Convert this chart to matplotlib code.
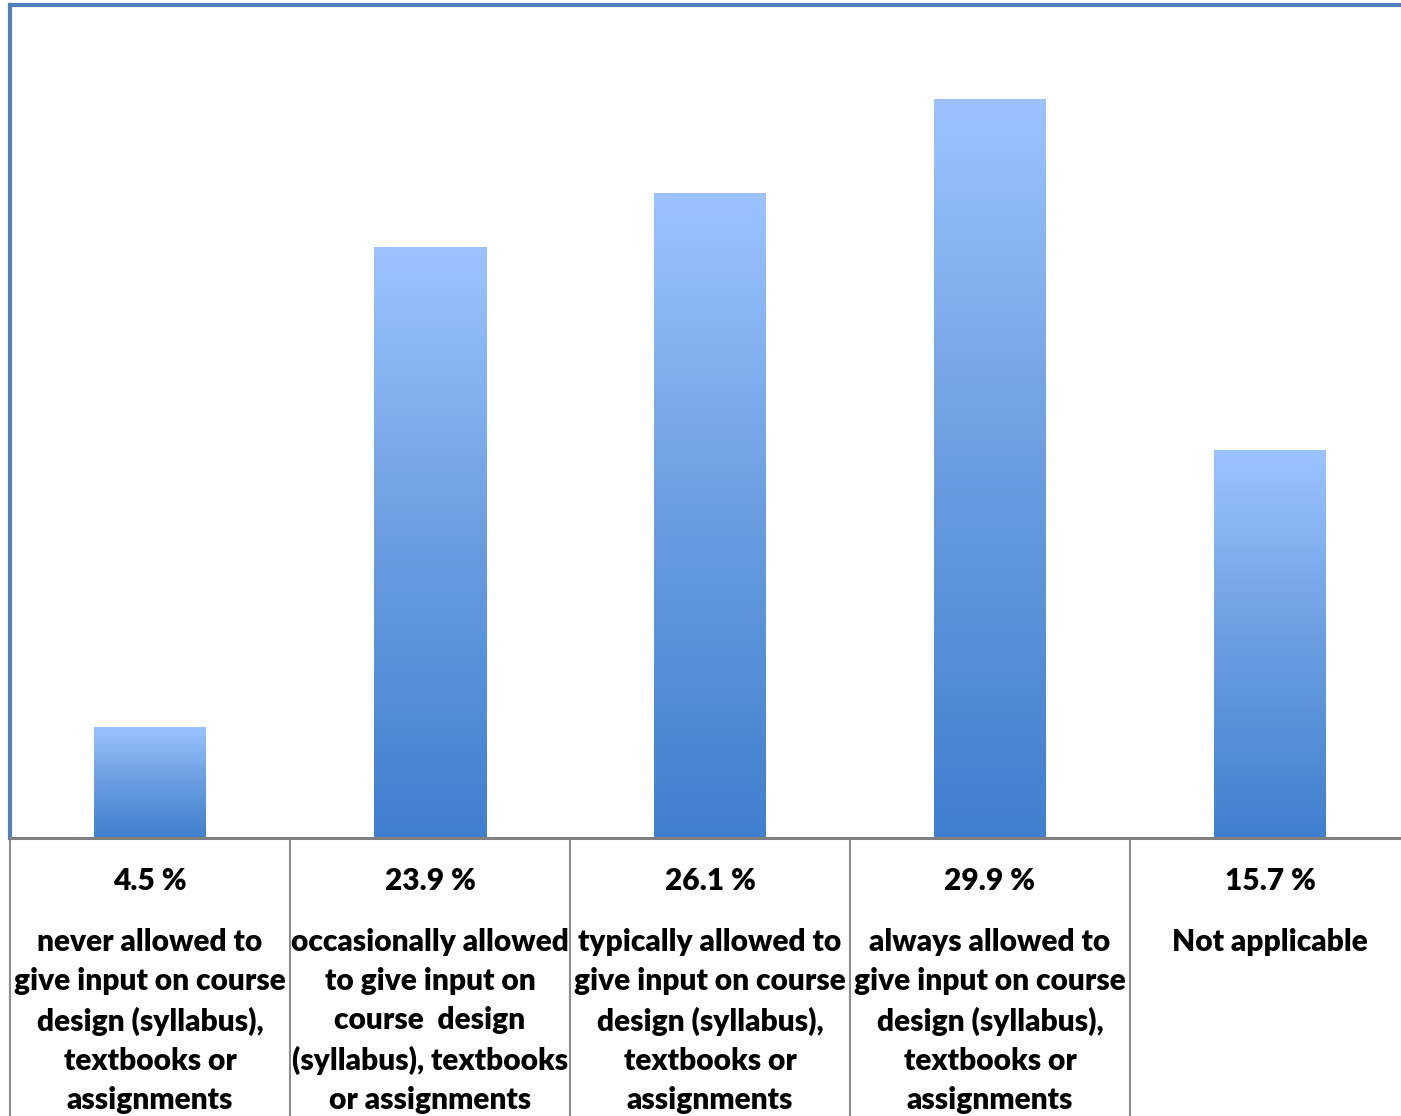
import matplotlib.pyplot as plt
import numpy as np
from matplotlib.colors import LinearSegmentedColormap

values = [4.5, 23.9, 26.1, 29.9, 15.7]
value_labels = ['4.5 %', '23.9 %', '26.1 %', '29.9 %', '15.7 %']
categories = [
    'never allowed to\ngive input on course\ndesign (syllabus),\ntextbooks or\nassignments',
    'occasionally allowed\nto give input on\ncourse  design\n(syllabus), textbooks\nor assignments',
    'typically allowed to\ngive input on course\ndesign (syllabus),\ntextbooks or\nassignments',
    'always allowed to\ngive input on course\ndesign (syllabus),\ntextbooks or\nassignments',
    'Not applicable',
]

plt.rcParams['font.family'] = ['Lato', 'DejaVu Sans']

W, H = 1401, 1116
fig = plt.figure(figsize=(W / 100, H / 100), dpi=100)
# plot area runs past the right edge, as in the original
ax = fig.add_axes([10 / W, (H - 838) / H, 1400 / W, 833 / H])

grad = LinearSegmentedColormap.from_list('bar', ['#3f80ce', '#6a9de0', '#9cc3ff'])
x = np.arange(len(values))
bars = ax.bar(x, values, width=0.4, color='none', edgecolor='none', zorder=2)
ramp = np.linspace(0, 1, 256).reshape(-1, 1)
for b in bars:
    x0, y0 = b.get_x(), b.get_y()
    im = ax.imshow(ramp, cmap=grad, origin='lower', aspect='auto',
                   extent=[x0, x0 + b.get_width(), y0, y0 + b.get_height()],
                   zorder=2)
    im.set_clip_path(b)

ax.set_xlim(-0.5, len(values) - 0.5)
ax.set_ylim(0, 33.7)
ax.set_xticks([])
ax.set_yticks([])

for side in ['top', 'left', 'right']:
    ax.spines[side].set_color('#4f81bd')
    ax.spines[side].set_linewidth(3)
ax.spines['bottom'].set_color('#808080')
ax.spines['bottom'].set_linewidth(2.2)

# table-like separators below the axis
seps = np.arange(len(values) + 1) - 0.5
ax.vlines(seps, -0.34, 0, transform=ax.get_xaxis_transform(),
          colors='#8c8c8c', linewidth=1.5, clip_on=False)

for i in range(len(values)):
    ax.annotate(value_labels[i], xy=(x[i], 0), xycoords=('data', 'axes fraction'),
                xytext=(0, -43 * 0.72), textcoords='offset points',
                ha='center', va='center', fontsize=21.5, fontweight='heavy')
    ax.annotate(categories[i], xy=(x[i], 0), xycoords=('data', 'axes fraction'),
                xytext=(0, -90 * 0.72), textcoords='offset points',
                ha='center', va='top', fontsize=21.5, fontweight='heavy',
                linespacing=1.48)

fig.savefig('out.png', dpi=100)
